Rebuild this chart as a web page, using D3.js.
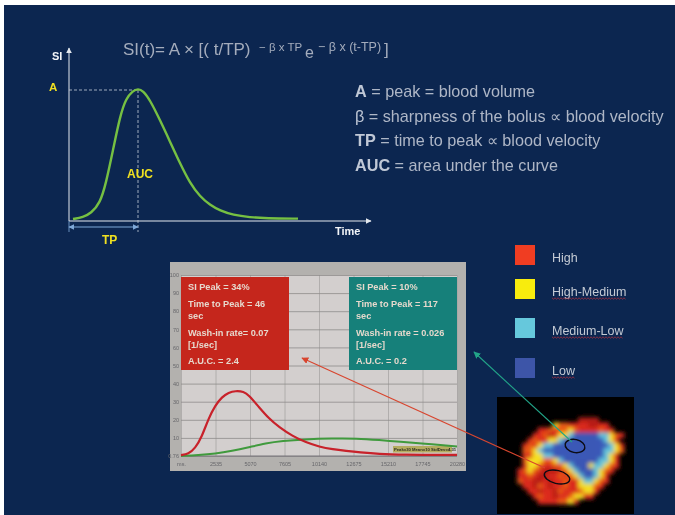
<!DOCTYPE html>
<html>
<head>
<meta charset="utf-8">
<style>
  html, body { margin: 0; padding: 0; background: #fff; }
  svg { display: block; }
  text { font-family: "Liberation Sans", Arial, sans-serif; }
</style>
<script src="https://cdn.jsdelivr.net/npm/d3@7"></script>
</head>
<body>
<div id="chart"></div>
<script>
// bolus curve, SI as percent of the peak A
var bolusTime = [4, 14, 22, 31, 37, 44, 51, 57, 64, 69, 74, 81, 91, 101, 111, 121, 131, 141, 151, 164, 181, 197, 229];
var bolusSI = [1.5, 2.8, 5.9, 13.5, 28.8, 54, 80, 93.6, 99.5, 101, 99.5, 92.4, 77, 60.6, 44, 28.8, 18.6, 12.2, 7.9, 4.6, 2.8, 2, 1.8];
var bolusPeakTime = 69;
var bolusPeakSI = 100;

// measured curves in the grey panel
var redTime = [0, 540, 1040, 1530, 2020, 2520, 3010, 3500, 4000, 4610, 4980, 5720, 6460, 7200, 8190, 9180, 10160, 11150, 12140, 13120, 14600, 16090, 20280];
var redSI = [0.5, 1.1, 4.2, 10.6, 20.7, 28, 32.6, 35, 36, 35.6, 33.6, 27.1, 20.7, 16, 11, 7.5, 5.1, 3.7, 2.8, 2, 1.1, 0.7, 0.6];
var greenTime = [0, 1280, 2520, 3750, 4980, 6220, 7450, 9050, 11150, 12880, 14600, 16090, 17810, 20280];
var greenSI = [0, 0.5, 1.3, 2.8, 4.8, 7, 8.3, 9.2, 9.7, 9.7, 8.8, 7.9, 6.9, 5.3];

var panelTimeTicks = [0, 2535, 5070, 7605, 10140, 12675, 15210, 17745, 20280];
var panelTimeLabels = ["ms.", "2535", "5070", "7605", "10140", "12675", "15210", "17745", "20280"];
var panelSITicks = [0, 10, 20, 30, 40, 50, 60, 70, 80, 90, 100];
var panelSILabels = ["0.76", "10", "20", "30", "40", "50", "60", "70", "80", "90", "100"];

var redBoxLines = ["SI Peak = 34%", "Time to Peak = 46", "sec", "Wash-in rate= 0.07", "[1/sec]", "A.U.C. = 2.4"];
var tealBoxLines = ["SI Peak = 10%", "Time to Peak = 117", "sec", "Wash-in rate = 0.026", "[1/sec]", "A.U.C. = 0.2"];

var definitions = [
  ["A", " = peak = blood volume"],
  ["β", " = sharpness of the bolus ∝ blood velocity"],
  ["TP", " = time to peak ∝ blood velocity"],
  ["AUC", " = area under the curve"]
];

var legendLabels = ["High", "High-Medium", "Medium-Low", "Low"];
var legendColors = ["#f03c20", "#f8ec10", "#66c8dc", "#3c54a8"];

// perfusion map, one letter per cell: d/r/o red shades, y yellow, c cyan, b blue
var mapRows = [
  "...........................",
  "...........................",
  "...........................",
  "...........................",
  "................dddd.......",
  "...........yoorrrrddrr.....",
  "........rrorooyorrrrorr....",
  ".......rrodryycbbbbbccyor..",
  "......rorryycbbbbbbbbcyr...",
  ".....roryccbbbbbbbbbbbcyr..",
  ".....ooycbbbbbbbbbbbbccyo..",
  ".....rryyccbbbbbbbbbbcyr...",
  ".....oyyyooycbbbbbbbccyr...",
  ".....ryyorrooycbbbyccyor...",
  "....royordddroycbbbcyor....",
  "....rrorddrroroycbbcyr.....",
  "....orrddrdrrorryccyor.....",
  ".....rrdordrrorryyyor......",
  "......rrdrrdorrroyyr.......",
  ".......rorrdrroyyrr........",
  "........rrrrooyr...........",
  "...........................",
  "..........................."
];
var mapColors = { d: "#b81a18", r: "#dc2a1a", o: "#ea5c18", y: "#f6e020", c: "#62c4dc", b: "#3a58b8" };

var width = 675, height = 515;
var slideColor = "#0c2650";
var axisColor = "#e4e8ee";
var bodyText = "#aeb6c6";
var accent = "#f0e020";

var svg = d3.select("#chart").append("svg")
  .attr("width", width)
  .attr("height", height);

var defs = svg.append("defs");

function addArrowHead(id, color, size) {
  defs.append("marker")
    .attr("id", id)
    .attr("viewBox", "0 0 10 10")
    .attr("refX", 9)
    .attr("refY", 5)
    .attr("markerWidth", size)
    .attr("markerHeight", size)
    .attr("markerUnits", "userSpaceOnUse")
    .attr("orient", "auto-start-reverse")
    .append("path")
    .attr("d", "M0,0L10,5L0,10Z")
    .attr("fill", color);
}
addArrowHead("head-white", axisColor, 6);
addArrowHead("head-tp", "#7fa8d8", 6);
addArrowHead("head-red", "#d8452e", 7);
addArrowHead("head-green", "#22a488", 7);

defs.append("filter").attr("id", "soft")
  .append("feGaussianBlur").attr("stdDeviation", 1.9);
defs.append("filter").attr("id", "scan")
  .attr("x", 0).attr("y", 0).attr("width", 1).attr("height", 1)
  .append("feGaussianBlur").attr("stdDeviation", 0.35);
defs.append("clipPath").attr("id", "map-clip")
  .append("rect").attr("x", 497).attr("y", 397).attr("width", 137).attr("height", 117);

svg.append("rect")
  .attr("x", 4).attr("y", 5)
  .attr("width", width - 4).attr("height", height - 5)
  .attr("fill", slideColor);

// everything on the slide is a bit soft, like the scanned original
var root = svg.append("g").attr("filter", "url(#scan)");
root.append("rect").attr("width", width).attr("height", height).attr("fill", "none");

drawFormula();
drawBolusChart();
drawDefinitions();
drawPanel();
drawMap();
drawLegend();
drawPointers();

function drawFormula() {
  var g = root.append("g").attr("fill", "#a4acbc");
  var parts = [
    { x: 123, y: 55, size: 17, t: "SI(t)= A × [( t/TP)" },
    { x: 259, y: 51, size: 11.5, t: "− β x TP" },
    { x: 305, y: 58, size: 16, t: "e" },
    { x: 318, y: 51, size: 12.5, t: "− β x (t-TP)" },
    { x: 384, y: 55, size: 17, t: "]" }
  ];
  g.selectAll("text").data(parts).enter().append("text")
    .attr("x", function(d) { return d.x; })
    .attr("y", function(d) { return d.y; })
    .attr("font-size", function(d) { return d.size; })
    .text(function(d) { return d.t; });
}

function drawBolusChart() {
  var x = d3.scaleLinear().domain([0, 100]).range([69, 169]);
  var y = d3.scaleLinear().domain([0, 100]).range([221, 90]);
  var g = root.append("g");

  // axes
  g.append("line")
    .attr("x1", x(0)).attr("y1", y(0)).attr("x2", x(0)).attr("y2", 48)
    .attr("stroke", axisColor).attr("stroke-width", 1)
    .attr("marker-end", "url(#head-white)");
  g.append("line")
    .attr("x1", x(0)).attr("y1", y(0)).attr("x2", 371).attr("y2", y(0))
    .attr("stroke", axisColor).attr("stroke-width", 1)
    .attr("marker-end", "url(#head-white)");

  // guides to the peak
  g.append("line")
    .attr("x1", x(0)).attr("y1", y(bolusPeakSI)).attr("x2", x(bolusPeakTime)).attr("y2", y(bolusPeakSI))
    .attr("stroke", "#c4ccd8").attr("stroke-width", 0.8).attr("stroke-dasharray", "3,2");
  g.append("line")
    .attr("x1", x(bolusPeakTime)).attr("y1", y(bolusPeakSI)).attr("x2", x(bolusPeakTime)).attr("y2", 232)
    .attr("stroke", "#c4ccd8").attr("stroke-width", 0.8).attr("stroke-dasharray", "3,2");

  var line = d3.line()
    .x(function(d, i) { return x(bolusTime[i]); })
    .y(function(d) { return y(d); })
    .curve(d3.curveBasis);
  g.append("path")
    .attr("d", line(bolusSI))
    .attr("fill", "none")
    .attr("stroke", "#76c043")
    .attr("stroke-width", 2.4);

  // TP span
  g.append("line")
    .attr("x1", x(0)).attr("y1", 227).attr("x2", x(bolusPeakTime)).attr("y2", 227)
    .attr("stroke", "#7fa8d8").attr("stroke-width", 1.2)
    .attr("marker-start", "url(#head-tp)")
    .attr("marker-end", "url(#head-tp)");
  g.append("line")
    .attr("x1", x(0)).attr("y1", 221).attr("x2", x(0)).attr("y2", 232)
    .attr("stroke", "#7fa8d8").attr("stroke-width", 0.8);

  var labels = [
    { x: 52, y: 60, c: "#f2f4f8", t: "SI", s: 11 },
    { x: 49, y: 91, c: accent, t: "A", s: 11.5 },
    { x: 127, y: 178, c: accent, t: "AUC", s: 12 },
    { x: 102, y: 244, c: accent, t: "TP", s: 12 },
    { x: 335, y: 235, c: "#f2f4f8", t: "Time", s: 11 }
  ];
  g.selectAll("text").data(labels).enter().append("text")
    .attr("x", function(d) { return d.x; })
    .attr("y", function(d) { return d.y; })
    .attr("fill", function(d) { return d.c; })
    .attr("font-size", function(d) { return d.s; })
    .attr("font-weight", "bold")
    .text(function(d) { return d.t; });
}

function drawDefinitions() {
  var rowY = d3.scalePoint().domain(d3.range(definitions.length)).range([97, 171]);
  var rows = root.append("g").selectAll("text").data(definitions).enter().append("text")
    .attr("x", 355)
    .attr("y", function(d, i) { return rowY(i); })
    .attr("font-size", 16.2)
    .attr("fill", bodyText);
  rows.append("tspan").attr("fill", "#c0c8d6").attr("font-weight", function(d) {
    return d[0] === "β" ? "normal" : "bold";
  }).text(function(d) { return d[0]; });
  rows.append("tspan").text(function(d) { return d[1]; });
}

function drawPanel() {
  var g = root.append("g");
  g.append("rect")
    .attr("x", 170).attr("y", 262).attr("width", 296).attr("height", 209)
    .attr("fill", "#b3b1ae");

  var x = d3.scaleLinear().domain([0, 20280]).range([181, 457]);
  var y = d3.scaleLinear().domain([0, 100]).range([456, 275]);

  g.append("rect")
    .attr("x", x(0)).attr("y", y(100))
    .attr("width", x(20280) - x(0)).attr("height", y(0) - y(100))
    .attr("fill", "#d3cfce");

  var xAxis = d3.axisBottom(x)
    .tickValues(panelTimeTicks)
    .tickSize(y(100) - y(0))
    .tickPadding(6)
    .tickFormat(function(d, i) { return panelTimeLabels[i]; });
  var yAxis = d3.axisLeft(y)
    .tickValues(panelSITicks)
    .tickSize(x(0) - x(20280))
    .tickPadding(2)
    .tickFormat(function(d, i) { return panelSILabels[i]; });

  var gx = g.append("g").attr("transform", "translate(0," + y(0) + ")").call(xAxis);
  var gy = g.append("g").attr("transform", "translate(" + x(0) + ",0)").call(yAxis);
  gx.select(".domain").remove();
  gy.select(".domain").remove();
  gx.selectAll("line").attr("stroke", "#a8a6a4").attr("stroke-width", 0.8);
  gy.selectAll("line").attr("stroke", "#8e8c8a").attr("stroke-width", 0.8);
  gx.selectAll("text").attr("font-size", 5.5).attr("fill", "#66666a");
  gy.selectAll("text").attr("font-size", 5.5).attr("fill", "#66666a");

  // baseline
  g.append("line")
    .attr("x1", x(0)).attr("x2", x(20280)).attr("y1", y(0)).attr("y2", y(0))
    .attr("stroke", "#77757a").attr("stroke-width", 1);

  var line = function(times) {
    return d3.line()
      .x(function(d, i) { return x(times[i]); })
      .y(function(d) { return y(d); })
      .curve(d3.curveBasis);
  };

  // stats strip
  g.append("rect")
    .attr("x", 393).attr("y", 446).attr("width", 59).attr("height", 6.5)
    .attr("fill", "#b4ac60");
  g.append("text")
    .attr("x", 394).attr("y", 451.3)
    .attr("font-size", 4.2)
    .attr("font-weight", "bold")
    .attr("fill", "#2c2c20")
    .text("Peak=30 Mean=10 StdDev=4.31");

  g.append("path")
    .attr("d", line(greenTime)(greenSI))
    .attr("fill", "none").attr("stroke", "#3f9a3c").attr("stroke-width", 2);
  g.append("path")
    .attr("d", line(redTime)(redSI))
    .attr("fill", "none").attr("stroke", "#c8202a").attr("stroke-width", 2.2);

  drawInfoBox(g, 181, "#c5261e", redBoxLines);
  drawInfoBox(g, 349, "#12807a", tealBoxLines);
}

function drawInfoBox(parent, left, color, lines) {
  var baselines = [290, 307, 319, 336, 348, 364];
  parent.append("rect")
    .attr("x", left).attr("y", 277).attr("width", 108).attr("height", 93)
    .attr("fill", color);
  parent.append("g").selectAll("text").data(lines).enter().append("text")
    .attr("x", left + 7)
    .attr("y", function(d, i) { return baselines[i]; })
    .attr("font-size", 9.2)
    .attr("font-weight", "bold")
    .attr("fill", "#e6d8cc")
    .text(function(d) { return d; });
}

function drawMap() {
  var cols = d3.range(mapRows[0].length);
  var rows = d3.range(mapRows.length);
  var x = d3.scaleBand().domain(cols).range([497, 634]);
  var y = d3.scaleBand().domain(rows).range([397, 514]);

  var g = root.append("g");
  g.append("rect")
    .attr("x", 497).attr("y", 397).attr("width", 137).attr("height", 117)
    .attr("fill", "#000");

  var cells = [];
  mapRows.forEach(function(row, r) {
    row.split("").forEach(function(ch, c) {
      if (ch !== ".") cells.push({ r: r, c: c, ch: ch });
    });
  });

  g.append("g")
    .attr("clip-path", "url(#map-clip)")
    .append("g")
    .attr("filter", "url(#soft)")
    .selectAll("rect").data(cells).enter().append("rect")
    .attr("x", function(d) { return x(d.c); })
    .attr("y", function(d) { return y(d.r); })
    .attr("width", x.bandwidth() + 0.5)
    .attr("height", y.bandwidth() + 0.5)
    .attr("fill", function(d) { return mapColors[d.ch]; });

  // regions of interest
  var rois = [
    { cx: 575, cy: 446, rx: 10, ry: 6.5, rot: 12 },
    { cx: 557, cy: 477, rx: 13, ry: 6.5, rot: 14 }
  ];
  g.selectAll("ellipse").data(rois).enter().append("ellipse")
    .attr("cx", function(d) { return d.cx; })
    .attr("cy", function(d) { return d.cy; })
    .attr("rx", function(d) { return d.rx; })
    .attr("ry", function(d) { return d.ry; })
    .attr("transform", function(d) { return "rotate(" + d.rot + " " + d.cx + " " + d.cy + ")"; })
    .attr("fill", "none")
    .attr("stroke", "#0a0a12")
    .attr("stroke-width", 1.4);
}

function drawLegend() {
  var tops = [245, 279, 318, 358];
  var g = root.append("g");
  g.selectAll("rect").data(legendLabels).enter().append("rect")
    .attr("x", 515)
    .attr("y", function(d, i) { return tops[i]; })
    .attr("width", 20).attr("height", 20)
    .attr("fill", function(d, i) { return legendColors[i]; });
  var labels = g.selectAll("text").data(legendLabels).enter().append("text")
    .attr("x", 552)
    .attr("y", function(d, i) { return tops[i] + 17; })
    .attr("font-size", 12.5)
    .attr("fill", "#c4cad4")
    .text(function(d) { return d; });

  // spell-checker squiggles under everything but "High"
  labels.each(function(d, i) {
    if (i === 0) return;
    var len = this.getComputedTextLength();
    var baseY = tops[i] + 19.5;
    var pts = d3.range(0, len, 1.5).map(function(px, k) {
      return [552 + px, baseY + (k % 2 ? 0.7 : -0.7)];
    });
    g.append("path")
      .attr("d", d3.line()(pts))
      .attr("fill", "none")
      .attr("stroke", "#c0343c")
      .attr("stroke-width", 0.7);
  });
}

function drawPointers() {
  root.append("line")
    .attr("x1", 545).attr("y1", 468).attr("x2", 302).attr("y2", 358)
    .attr("stroke", "#d8452e").attr("stroke-width", 1.1)
    .attr("marker-end", "url(#head-red)");
  root.append("line")
    .attr("x1", 572).attr("y1", 442).attr("x2", 474).attr("y2", 352)
    .attr("stroke", "#22a488").attr("stroke-width", 1.1)
    .attr("marker-end", "url(#head-green)");
}
</script>
</body>
</html>
